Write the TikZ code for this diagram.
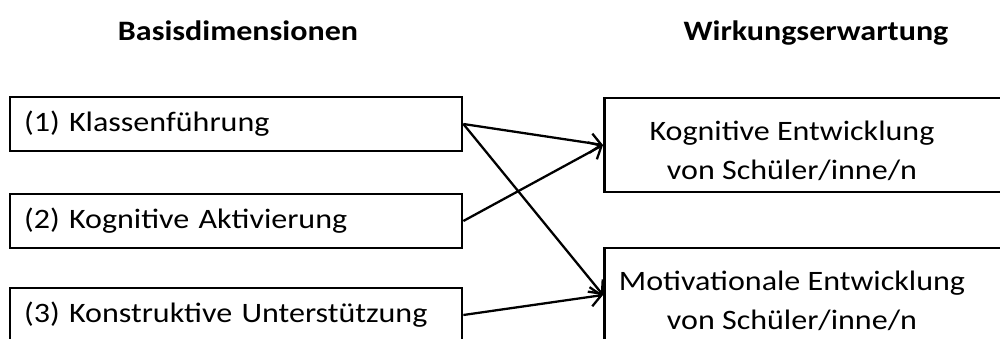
\documentclass[tikz,border=0pt]{standalone}
\usepackage{fontspec}
\setmainfont{Carlito}[FakeStretch=1.14]
\usetikzlibrary{arrows.meta}
\begin{document}
\begin{tikzpicture}[x=0.02cm, y=-0.02cm,
    font=\fontsize{16}{22.1}\selectfont,
    dimbox/.style={draw, line width=1.6pt, minimum height=1.08cm, text width=8.48cm,
        inner xsep=0.28cm, inner ysep=0pt, align=left},
    effbox/.style={draw, line width=1.6pt, minimum height=1.88cm, minimum width=8.8cm,
        anchor=west},
    effect/.style={align=center},
    link/.style={line width=1.3pt, -{Straight Barb[length=6pt, width=11pt, line width=1.3pt]}}]
    \useasboundingbox (0,0) rectangle (1000,338);
    \clip (0,0) rectangle (1000,338);
    \node[anchor=base, font=\fontsize{16}{22.1}\selectfont\bfseries] (basis) at (238,40) {Basisdimensionen};
    \node[anchor=base, font=\fontsize{16}{22.1}\selectfont\bfseries] (wirkung) at (816,40) {Wirkungserwartung};
    \node[dimbox] (klasse) at (236,124) {(1) Klassenführung};
    \node[dimbox] (aktiv) at (236,221) {(2) Kognitive Aktivierung};
    \node[dimbox] (unterst) at (236,315) {(3) Konstruktive Unterstützung};
    \node[effbox] (kog) at (603,145) {};
    \node[effbox] (mot) at (603,295) {};
    \node[effect] (kogtext) at (792,151) {Kognitive Entwicklung\\von Schüler/inne/n};
    \node[effect] (mottext) at (792,301) {Motivationale Entwicklung\\von Schüler/inne/n};
    \draw[link] (klasse.east) -- (kog.west);
    \draw[link] (aktiv.east) -- (kog.west);
    \draw[link] (klasse.east) -- (mot.west);
    \draw[link] (unterst.east) -- (mot.west);
\end{tikzpicture}
\end{document}
